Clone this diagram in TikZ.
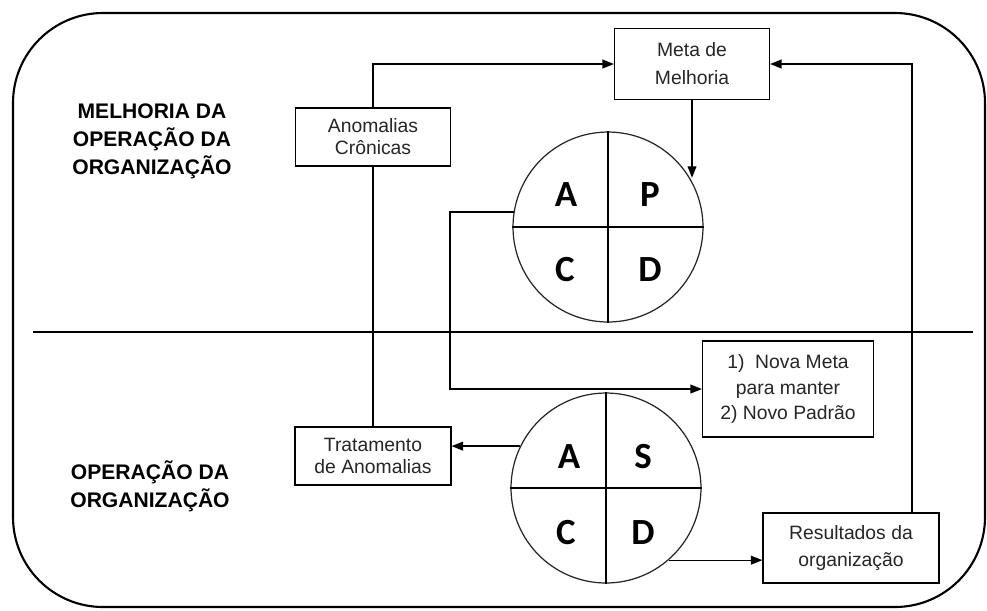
\documentclass[tikz,border=0pt]{standalone}
\usepackage{fontspec}
\setmainfont{Liberation Sans}
\newfontfamily\pdcafont{Carlito}
\usetikzlibrary{arrows.meta}

\tikzset{
  box/.style={draw, fill=white, line width=0.7pt, align=center, inner sep=0pt,
    text=black!85, font=\fontsize{11}{12.5}\selectfont},
  cyc/.style={draw=black!85, circle, line width=0.7pt, minimum size=3.8cm, inner sep=0pt},
  lett/.style={font=\pdcafont\bfseries\fontsize{21}{21}\selectfont},
  lab/.style={align=center, font=\bfseries\fontsize{12}{16}\selectfont},
  arr/.style={line width=0.7pt, -{Triangle[length=6.5pt,width=5pt]}},
}

\begin{document}
\begin{tikzpicture}[x=0.02cm, y=-0.02cm]
	\useasboundingbox (0,0) rectangle (987,610);
	\draw[line width=1.2pt, rounded corners=1.8cm] (13,13) rectangle (985,607);
	\draw[line width=1.1pt] (33,332) -- (973,332);

	\node[lab] (top) at (152,141) {MELHORIA DA\\OPERAÇÃO DA\\ORGANIZAÇÃO};
	\node[lab] (bot) at (150,486) {OPERAÇÃO DA\\ORGANIZAÇÃO};

	\node[box, minimum width=3.1cm, minimum height=1.16cm] (anom) at (373,137) {Anomalias\\Crônicas};
	\node[box, minimum width=3.1cm, minimum height=1.42cm, font=\fontsize{11}{16}\selectfont] (meta) at (692,64) {Meta de\\Melhoria};
	\node[box, minimum width=3.42cm, minimum height=1.92cm, font=\fontsize{11}{14.5}\selectfont] (nova) at (788,389) {1)\ \ Nova Meta\\para manter\\2) Novo Padrão};
	\node[box, minimum width=3.12cm, minimum height=1.16cm, font=\fontsize{11}{13}\selectfont] (trat) at (373,456) {Tratamento\\de Anomalias};
	\node[box, minimum width=3.52cm, minimum height=1.4cm, font=\fontsize{11}{15.5}\selectfont] (res) at (851,548) {Resultados da\\organização};

	\node[cyc] (cyc1) at (608,227) {};
	\node[cyc] (cyc2) at (606,488) {};
	\foreach \C in {cyc1,cyc2}
	{\draw[line width=0.7pt] (\C.north) -- (\C.south) (\C.west) -- (\C.east);}
	\foreach \L/\X/\Y [count=\Z] in {A/566/195, P/650/195, C/565/270, D/650/270}
	{\node[lett] (u\Z) at (\X,\Y) {\L};}
	\foreach \L/\X/\Y [count=\Z] in {A/569/457, S/643/457, C/566/533, D/643/533}
	{\node[lett] (d\Z) at (\X,\Y) {\L};}

	\coordinate (lft) at (450,0);
	\coordinate (rgt) at (912,0);
	\draw[line width=0.7pt] (trat.north) -- (anom.south);
	\draw[arr] (anom.north) |- (meta.west);
	\draw[arr] (meta.south) -- (meta.south |- cyc1.31);
	\draw[arr] (cyc1.171) -| (lft |- nova.west) -- (nova.west);
	\draw[arr] (cyc2.154) -- (cyc2.154 -| trat.east);
	\draw[arr] (cyc2.-49) -- (cyc2.-49 -| res.west);
	\draw[arr] (rgt |- res.north) |- (meta.east);
\end{tikzpicture}
\end{document}
